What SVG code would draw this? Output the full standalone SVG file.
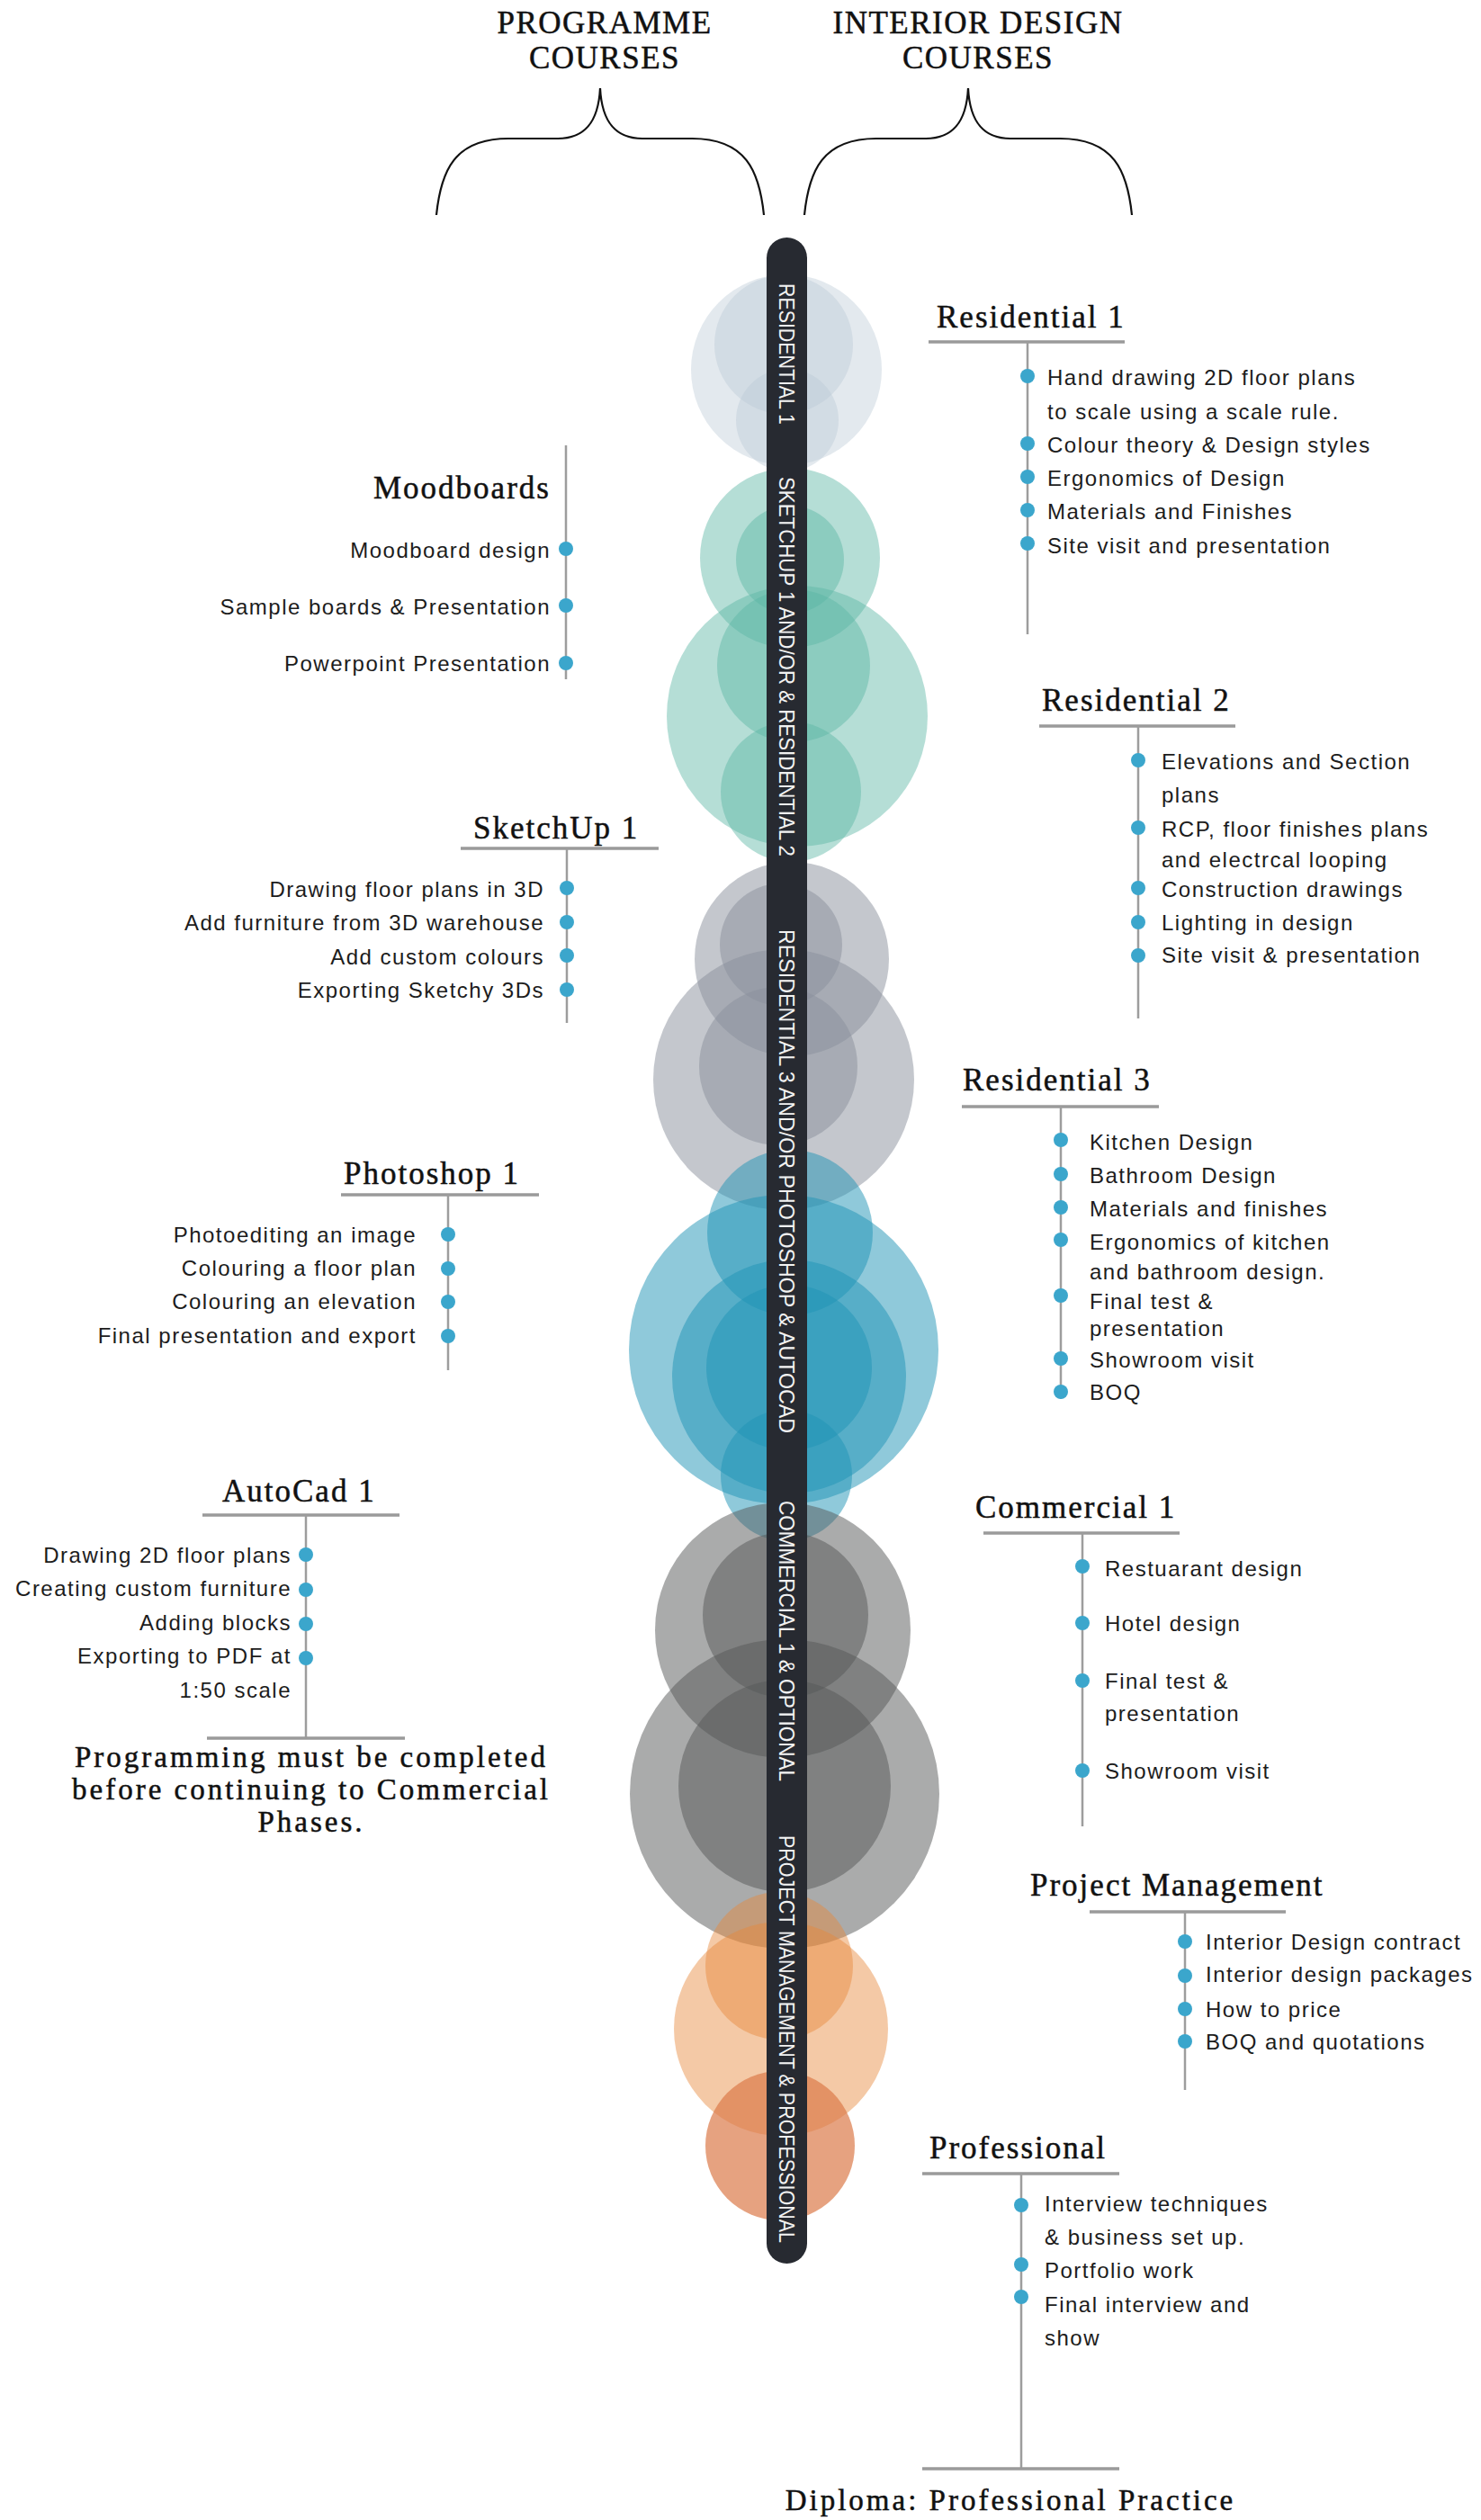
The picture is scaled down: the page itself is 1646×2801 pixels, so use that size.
<svg xmlns="http://www.w3.org/2000/svg" width="1646" height="2801" viewBox="0 0 1646 2801">
<style>
.hd{font-family:"Liberation Serif","Times New Roman",serif;font-size:35px;letter-spacing:1.5px;fill:#111;stroke:#111;stroke-width:0.5;text-anchor:middle}
.h{font-family:"Liberation Serif","Times New Roman",serif;font-size:35px;letter-spacing:2px;fill:#111;stroke:#111;stroke-width:0.5}
.nt{font-family:"Liberation Serif","Times New Roman",serif;font-size:33px;letter-spacing:3px;fill:#111;stroke:#111;stroke-width:0.5;text-anchor:middle}
.t{font-family:"Liberation Sans",Arial,sans-serif;font-size:24px;letter-spacing:1.5px;fill:#1c1c1c}
.e{text-anchor:end}
.ln{stroke:#9d9d9d;stroke-width:2.5;fill:none}
.ul{stroke:#9a9a9a;stroke-width:3.5;fill:none}
.dot{fill:#3ba6cc}
.bt{font-family:"Liberation Sans",Arial,sans-serif;font-size:24px;fill:#f2f2f2}
.br{fill:none;stroke:#111;stroke-width:2.2}
.c1{fill:#b8c8d4;fill-opacity:0.4}
.c2{fill:#5ab5a5;fill-opacity:0.45}
.c3{fill:#8a8f9c;fill-opacity:0.5}
.c4{fill:#1f93b5;fill-opacity:0.5}
.c5{fill:#555757;fill-opacity:0.5}
.c6{fill:#e6883a;fill-opacity:0.45}
.c7{fill:#dc7a4a;fill-opacity:0.7}
</style>
<rect width="1646" height="2801" fill="#ffffff"/>

<g id="header-programme">
<text class="hd" x="672" y="37">PROGRAMME</text>
<text class="hd" x="672" y="76">COURSES</text>
</g>
<g id="header-interior">
<text class="hd" x="1087" y="37">INTERIOR DESIGN</text>
<text class="hd" x="1087" y="76">COURSES</text>
</g>

<g id="connectors">
<path class="br" d="M485 239 C490 190 505 154 565 154 L620 154 C648 154 665 138 667 98 C669 138 686 154 714 154 L769 154 C829 154 844 190 849 239"/>
<path class="br" d="M894 239 C899 190 914 154 974 154 L1029 154 C1057 154 1074 138 1076 98 C1078 138 1095 154 1123 154 L1178 154 C1238 154 1253 190 1258 239"/>
</g>

<g id="circles-residential1">
<circle class="c1" cx="874" cy="411" r="106"/>
<circle class="c1" cx="871" cy="383" r="77"/>
<circle class="c1" cx="875" cy="467" r="57"/>
</g>
<g id="circles-sketchup">
<circle class="c2" cx="878" cy="620" r="100"/>
<circle class="c2" cx="878" cy="622" r="60"/>
<circle class="c2" cx="886" cy="796" r="145"/>
<circle class="c2" cx="882" cy="740" r="85"/>
<circle class="c2" cx="879" cy="880" r="78"/>
</g>
<g id="circles-residential3">
<circle class="c3" cx="880" cy="1066" r="108"/>
<circle class="c3" cx="868" cy="1050" r="68"/>
<circle class="c3" cx="871" cy="1200" r="145"/>
<circle class="c3" cx="865" cy="1185" r="88"/>
</g>
<g id="circles-photoshop">
<circle class="c4" cx="878" cy="1370" r="92"/>
<circle class="c4" cx="871" cy="1500" r="172"/>
<circle class="c4" cx="877" cy="1530" r="130"/>
<circle class="c4" cx="877" cy="1520" r="92"/>
<circle class="c4" cx="874" cy="1640" r="73"/>
</g>
<g id="circles-commercial">
<circle class="c5" cx="870" cy="1812" r="142"/>
<circle class="c5" cx="873" cy="1795" r="92"/>
<circle class="c5" cx="872" cy="1994" r="172"/>
<circle class="c5" cx="872" cy="1985" r="118"/>
</g>
<g id="circles-project">
<circle class="c6" cx="866" cy="2185" r="82"/>
<circle class="c6" cx="868" cy="2255" r="119"/>
<circle class="c7" cx="867" cy="2385" r="83"/>
</g>

<g id="timeline-bar">
<rect x="852" y="264" width="45" height="2252" rx="22.5" fill="#272a31"/>
<text class="bt" transform="translate(866,315) rotate(90)" textLength="157" lengthAdjust="spacingAndGlyphs">RESIDENTIAL 1</text>
<text class="bt" transform="translate(866,530) rotate(90)" textLength="422" lengthAdjust="spacingAndGlyphs">SKETCHUP 1 AND/OR &amp; RESIDENTIAL 2</text>
<text class="bt" transform="translate(866,1033) rotate(90)" textLength="560" lengthAdjust="spacingAndGlyphs">RESIDENTIAL 3 AND/OR PHOTOSHOP &amp; AUTOCAD</text>
<text class="bt" transform="translate(866,1668) rotate(90)" textLength="312" lengthAdjust="spacingAndGlyphs">COMMERCIAL 1 &amp; OPTIONAL</text>
<text class="bt" transform="translate(866,2040) rotate(90)" textLength="453" lengthAdjust="spacingAndGlyphs">PROJECT MANAGEMENT &amp; PROFESSIONAL</text>
</g>

<g id="residential-1">
<text class="h" x="1041" y="364">Residential 1</text>
<line class="ul" x1="1032" y1="380" x2="1250" y2="380"/>
<line class="ln" x1="1142" y1="380" x2="1142" y2="705"/>
<circle class="dot" cx="1142" cy="418" r="8"/>
<circle class="dot" cx="1142" cy="493" r="8"/>
<circle class="dot" cx="1142" cy="530" r="8"/>
<circle class="dot" cx="1142" cy="567" r="8"/>
<circle class="dot" cx="1142" cy="604" r="8"/>
<text class="t" x="1164" y="428">Hand drawing 2D floor plans</text>
<text class="t" x="1164" y="466">to scale using a scale rule.</text>
<text class="t" x="1164" y="503">Colour theory &amp; Design styles</text>
<text class="t" x="1164" y="540">Ergonomics of Design</text>
<text class="t" x="1164" y="577">Materials and Finishes</text>
<text class="t" x="1164" y="615">Site visit and presentation</text>
</g>

<g id="moodboards">
<text class="h" x="415" y="554">Moodboards</text>
<line class="ln" x1="629" y1="495" x2="629" y2="755"/>
<circle class="dot" cx="629" cy="610" r="8"/>
<circle class="dot" cx="629" cy="673" r="8"/>
<circle class="dot" cx="629" cy="737" r="8"/>
<text class="t e" x="612" y="620">Moodboard design</text>
<text class="t e" x="612" y="683">Sample boards &amp; Presentation</text>
<text class="t e" x="612" y="746">Powerpoint Presentation</text>
</g>

<g id="residential-2">
<text class="h" x="1158" y="790">Residential 2</text>
<line class="ul" x1="1155" y1="807" x2="1373" y2="807"/>
<line class="ln" x1="1265" y1="807" x2="1265" y2="1132"/>
<circle class="dot" cx="1265" cy="845" r="8"/>
<circle class="dot" cx="1265" cy="920" r="8"/>
<circle class="dot" cx="1265" cy="987" r="8"/>
<circle class="dot" cx="1265" cy="1025" r="8"/>
<circle class="dot" cx="1265" cy="1062" r="8"/>
<text class="t" x="1291" y="855">Elevations and Section</text>
<text class="t" x="1291" y="892">plans</text>
<text class="t" x="1291" y="930">RCP, floor finishes plans</text>
<text class="t" x="1291" y="964">and electrcal looping</text>
<text class="t" x="1291" y="997">Construction drawings</text>
<text class="t" x="1291" y="1034">Lighting in design</text>
<text class="t" x="1291" y="1070">Site visit &amp; presentation</text>
</g>

<g id="sketchup-1">
<text class="h" x="526" y="932">SketchUp 1</text>
<line class="ul" x1="512" y1="943" x2="732" y2="943"/>
<line class="ln" x1="630" y1="943" x2="630" y2="1137"/>
<circle class="dot" cx="630" cy="987" r="8"/>
<circle class="dot" cx="630" cy="1025" r="8"/>
<circle class="dot" cx="630" cy="1062" r="8"/>
<circle class="dot" cx="630" cy="1100" r="8"/>
<text class="t e" x="605" y="997">Drawing floor plans in 3D</text>
<text class="t e" x="605" y="1034">Add furniture from 3D warehouse</text>
<text class="t e" x="605" y="1072">Add custom colours</text>
<text class="t e" x="605" y="1109">Exporting Sketchy 3Ds</text>
</g>

<g id="residential-3">
<text class="h" x="1070" y="1212">Residential 3</text>
<line class="ul" x1="1069" y1="1230" x2="1288" y2="1230"/>
<line class="ln" x1="1179" y1="1230" x2="1179" y2="1555"/>
<circle class="dot" cx="1179" cy="1267" r="8"/>
<circle class="dot" cx="1179" cy="1305" r="8"/>
<circle class="dot" cx="1179" cy="1342" r="8"/>
<circle class="dot" cx="1179" cy="1378" r="8"/>
<circle class="dot" cx="1179" cy="1440" r="8"/>
<circle class="dot" cx="1179" cy="1510" r="8"/>
<circle class="dot" cx="1179" cy="1547" r="8"/>
<text class="t" x="1211" y="1278">Kitchen Design</text>
<text class="t" x="1211" y="1315">Bathroom Design</text>
<text class="t" x="1211" y="1352">Materials and finishes</text>
<text class="t" x="1211" y="1389">Ergonomics of kitchen</text>
<text class="t" x="1211" y="1422">and bathroom design.</text>
<text class="t" x="1211" y="1455">Final test &amp;</text>
<text class="t" x="1211" y="1485">presentation</text>
<text class="t" x="1211" y="1520">Showroom visit</text>
<text class="t" x="1211" y="1556">BOQ</text>
</g>

<g id="photoshop-1">
<text class="h" x="382" y="1316">Photoshop 1</text>
<line class="ul" x1="379" y1="1328" x2="599" y2="1328"/>
<line class="ln" x1="498" y1="1328" x2="498" y2="1523"/>
<circle class="dot" cx="498" cy="1372" r="8"/>
<circle class="dot" cx="498" cy="1410" r="8"/>
<circle class="dot" cx="498" cy="1447" r="8"/>
<circle class="dot" cx="498" cy="1485" r="8"/>
<text class="t e" x="463" y="1381">Photoediting an image</text>
<text class="t e" x="463" y="1418">Colouring a floor plan</text>
<text class="t e" x="463" y="1455">Colouring an elevation</text>
<text class="t e" x="463" y="1493">Final presentation and export</text>
</g>

<g id="autocad-1">
<text class="h" x="247" y="1669">AutoCad 1</text>
<line class="ul" x1="225" y1="1684" x2="444" y2="1684"/>
<line class="ln" x1="340" y1="1684" x2="340" y2="1932"/>
<line class="ul" x1="230" y1="1932" x2="450" y2="1932"/>
<circle class="dot" cx="340" cy="1728" r="8"/>
<circle class="dot" cx="340" cy="1767" r="8"/>
<circle class="dot" cx="340" cy="1805" r="8"/>
<circle class="dot" cx="340" cy="1843" r="8"/>
<text class="t e" x="324" y="1737">Drawing 2D floor plans</text>
<text class="t e" x="324" y="1774">Creating custom furniture</text>
<text class="t e" x="324" y="1812">Adding blocks</text>
<text class="t e" x="324" y="1849">Exporting to PDF at</text>
<text class="t e" x="324" y="1887">1:50 scale</text>
</g>

<g id="programming-note">
<text class="nt" x="346" y="1964">Programming must be completed</text>
<text class="nt" x="346" y="2000">before continuing to Commercial</text>
<text class="nt" x="346" y="2036">Phases.</text>
</g>

<g id="commercial-1">
<text class="h" x="1084" y="1687">Commercial 1</text>
<line class="ul" x1="1093" y1="1704" x2="1311" y2="1704"/>
<line class="ln" x1="1203" y1="1704" x2="1203" y2="2030"/>
<circle class="dot" cx="1203" cy="1741" r="8"/>
<circle class="dot" cx="1203" cy="1804" r="8"/>
<circle class="dot" cx="1203" cy="1868" r="8"/>
<circle class="dot" cx="1203" cy="1968" r="8"/>
<text class="t" x="1228" y="1752">Restuarant design</text>
<text class="t" x="1228" y="1813">Hotel design</text>
<text class="t" x="1228" y="1877">Final test &amp;</text>
<text class="t" x="1228" y="1913">presentation</text>
<text class="t" x="1228" y="1977">Showroom visit</text>
</g>

<g id="project-management">
<text class="h" x="1145" y="2107">Project Management</text>
<line class="ul" x1="1211" y1="2125" x2="1429" y2="2125"/>
<line class="ln" x1="1317" y1="2125" x2="1317" y2="2323"/>
<circle class="dot" cx="1317" cy="2158" r="8"/>
<circle class="dot" cx="1317" cy="2196" r="8"/>
<circle class="dot" cx="1317" cy="2233" r="8"/>
<circle class="dot" cx="1317" cy="2269" r="8"/>
<text class="t" x="1340" y="2167">Interior Design contract</text>
<text class="t" x="1340" y="2203">Interior design packages</text>
<text class="t" x="1340" y="2242">How to price</text>
<text class="t" x="1340" y="2278">BOQ and quotations</text>
</g>

<g id="professional">
<text class="h" x="1033" y="2399">Professional</text>
<line class="ul" x1="1025" y1="2416" x2="1244" y2="2416"/>
<line class="ln" x1="1135" y1="2416" x2="1135" y2="2744"/>
<line class="ul" x1="1025" y1="2744" x2="1244" y2="2744"/>
<circle class="dot" cx="1135" cy="2451" r="8"/>
<circle class="dot" cx="1135" cy="2517" r="8"/>
<circle class="dot" cx="1135" cy="2553" r="8"/>
<text class="t" x="1161" y="2458">Interview techniques</text>
<text class="t" x="1161" y="2495">&amp; business set up.</text>
<text class="t" x="1161" y="2532">Portfolio work</text>
<text class="t" x="1161" y="2570">Final interview and</text>
<text class="t" x="1161" y="2607">show</text>
</g>

<g id="diploma">
<text class="nt" x="1123" y="2790">Diploma: Professional Practice</text>
</g>
</svg>
